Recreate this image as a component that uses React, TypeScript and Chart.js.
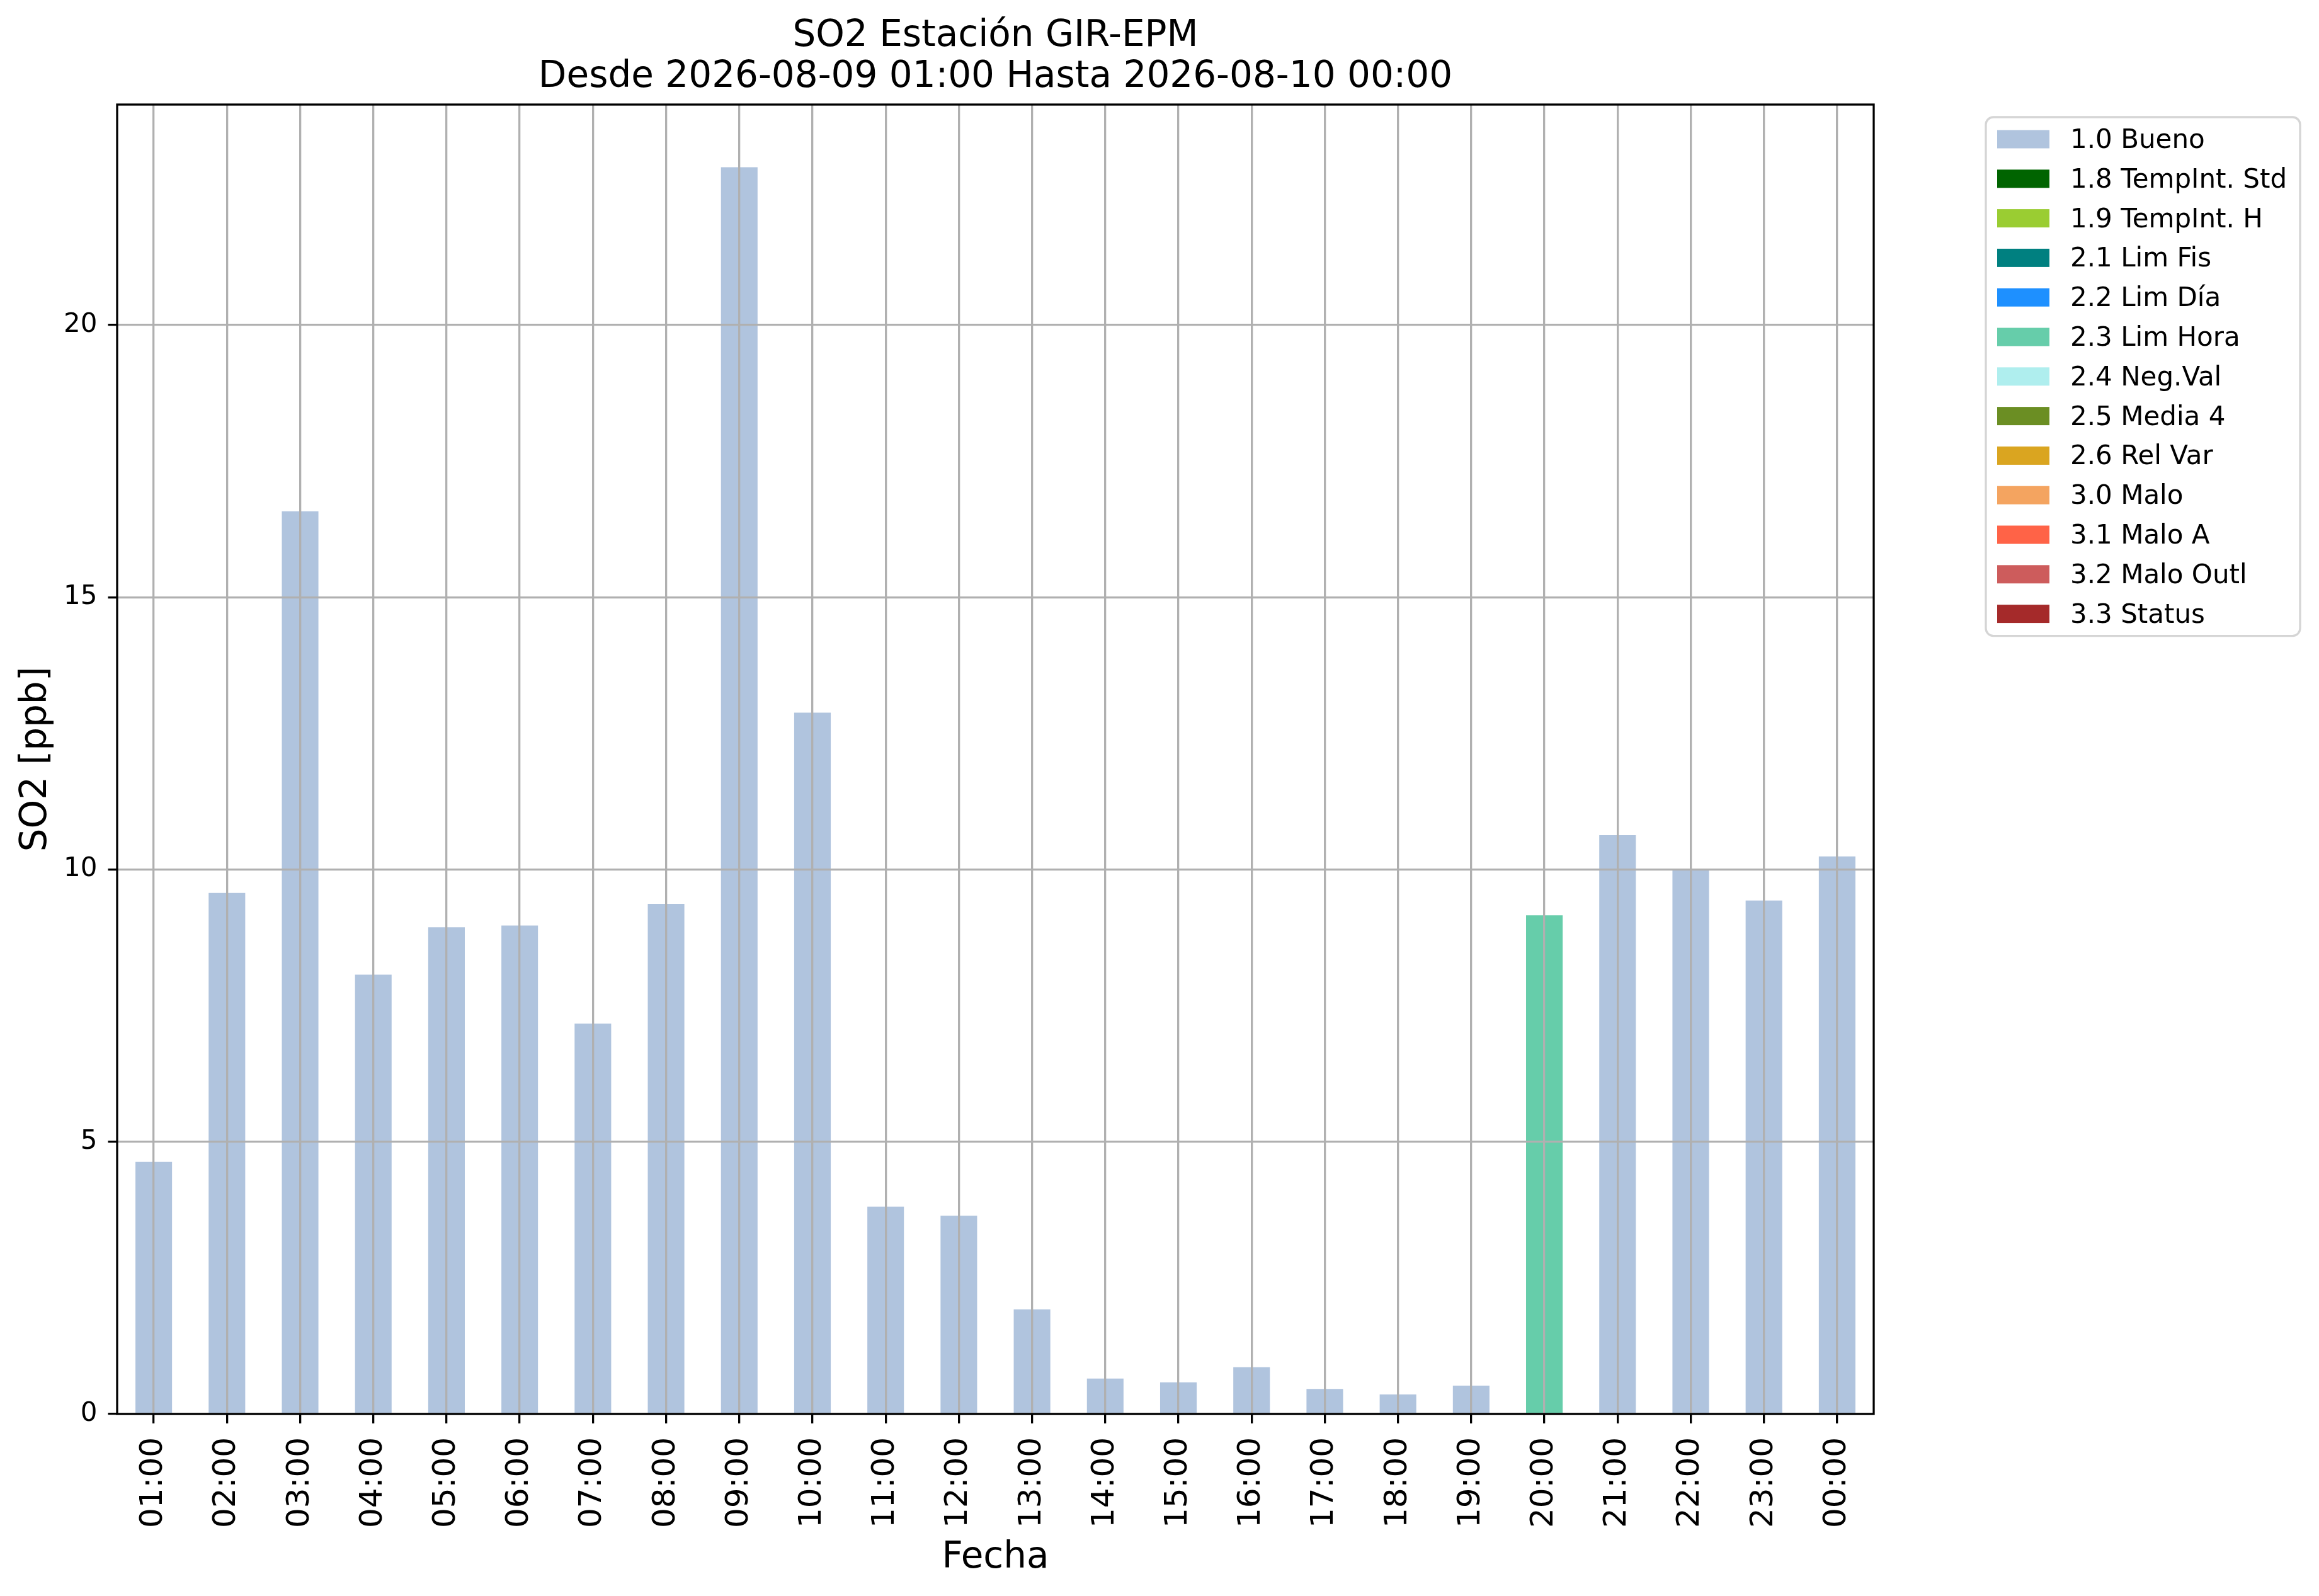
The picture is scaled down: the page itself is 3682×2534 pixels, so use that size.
import React, { useEffect, useRef } from "react";
import { Chart, registerables } from "chart.js";

Chart.register(...registerables);

// categorías (hora)
const horas = [
	"01:00", "02:00", "03:00", "04:00", "05:00", "06:00", "07:00", "08:00",
	"09:00", "10:00", "11:00", "12:00", "13:00", "14:00", "15:00", "16:00",
	"17:00", "18:00", "19:00", "20:00", "21:00", "22:00", "23:00", "00:00",
];

// banderas de calidad
const flagLabels = [
	"1.0 Bueno", "1.8 TempInt. Std", "1.9 TempInt. H", "2.1 Lim Fis",
	"2.2 Lim Día", "2.3 Lim Hora", "2.4 Neg.Val", "2.5 Media 4",
	"2.6 Rel Var", "3.0 Malo", "3.1 Malo A", "3.2 Malo Outl", "3.3 Status",
];
const flagColors = [
	"#B0C4DE", "#006400", "#9ACD32", "#008080", "#1E90FF", "#66CDAA",
	"#AFEEEE", "#6B8E23", "#DAA520", "#F4A460", "#FF6347", "#CD5C5C", "#A52A2A",
];

// SO2 [ppb] por bandera
const bueno = [
	4.63, 9.57, 16.58, 8.07, 8.94, 8.97, 7.17, 9.37, 22.9, 12.88, 3.81, 3.64,
	1.92, 0.65, 0.58, 0.86, 0.46, 0.36, 0.52, null, 10.63, 10.0, 9.43, 10.24,
];
const limHora = [
	null, null, null, null, null, null, null, null, null, null, null, null,
	null, null, null, null, null, null, null, 9.16, null, null, null, null,
];

const yMax = 24.05;
const yStep = 5;

const FONT = "'DejaVu Sans', sans-serif";

const framePlugin = {
	id: "frame",
	afterDraw(chart: any) {
		const { ctx, chartArea } = chart;
		ctx.save();
		ctx.strokeStyle = "#000";
		ctx.lineWidth = 3.3;
		ctx.strokeRect(chartArea.left, chartArea.top, chartArea.right - chartArea.left, chartArea.bottom - chartArea.top);
		ctx.restore();
	},
};

// leyenda con caja, a la derecha del gráfico
const boxedLegend = {
	id: "boxedLegend",
	afterDraw(chart: any) {
		const { ctx, chartArea } = chart;
		const sets = chart.data.datasets;
		const left = chartArea.right + 178;
		const top = chartArea.top + 20;
		const width = 499;
		const pitch = 62.8;
		const pad = 35;
		const height = pad * 2 + pitch * (sets.length - 1);
		ctx.save();
		ctx.beginPath();
		ctx.roundRect(left, top, width, height, 12);
		ctx.fillStyle = "rgba(255,255,255,0.8)";
		ctx.fill();
		ctx.strokeStyle = "#d5d5d5";
		ctx.lineWidth = 3.3;
		ctx.stroke();
		ctx.font = `42px ${FONT}`;
		ctx.textBaseline = "middle";
		ctx.textAlign = "left";
		sets.forEach((ds: any, i: number) => {
			const cy = top + pad + i * pitch;
			ctx.fillStyle = ds.backgroundColor;
			ctx.fillRect(left + 18, cy - 14.5, 83, 29);
			ctx.fillStyle = "#000";
			ctx.fillText(ds.label, left + 134, cy + 3);
		});
		ctx.restore();
	},
};

const App: React.FC = () => {
	const chartRef = useRef<HTMLCanvasElement | null>(null);
	const chartInstance = useRef<Chart | null>(null);

	useEffect(() => {
		document.body.style.margin = "0";
		if (chartInstance.current) {
			chartInstance.current.destroy();
			chartInstance.current = null;
		}
		if (!chartRef.current) return;
		const ctx = chartRef.current.getContext("2d");

		const datasets = flagLabels.map((label, i) => ({
			label,
			backgroundColor: flagColors[i],
			borderWidth: 0,
			data: i === 0 ? bueno : i === 5 ? limHora : [],
			barPercentage: 0.5,
			categoryPercentage: 1.0,
		}));

		chartInstance.current = new Chart(ctx as CanvasRenderingContext2D, {
			type: "bar",
			data: { labels: horas, datasets },
			options: {
				animation: false,
				responsive: false,
				devicePixelRatio: 1,
				layout: { padding: { top: 0, left: 0, right: 707, bottom: 0 } },
				plugins: {
					legend: { display: false },
					tooltip: { enabled: false },
					title: {
						display: true,
						fullSize: false,
						text: ["SO2 Estación GIR-EPM", "Desde 2026-08-09 01:00 Hasta 2026-08-10 00:00"],
						color: "#000",
						font: { family: FONT, size: 58, weight: "normal", lineHeight: 65 / 58 },
						padding: { top: 25.3, bottom: 10.7 },
					},
				},
				scales: {
					x: {
						stacked: true,
						afterFit: (s: any) => {
							s.height = 289;
						},
						grid: {
							offset: false,
							color: "#b0b0b0",
							lineWidth: 3.3,
							tickColor: "#000",
							tickWidth: 3.3,
							tickLength: 15,
							z: 1,
						},
						border: { display: false },
						ticks: {
							color: "#000",
							font: { family: FONT, size: 50 },
							minRotation: 90,
							maxRotation: 90,
							autoSkip: false,
							padding: 22,
						},
						title: {
							display: true,
							text: "Fecha",
							color: "#000",
							font: { family: FONT, size: 58, lineHeight: 1 },
							padding: { top: 0, bottom: 31 },
						},
					},
					y: {
						stacked: true,
						min: 0,
						max: yMax,
						afterFit: (s: any) => {
							s.width = 186;
						},
						grid: {
							color: "#b0b0b0",
							lineWidth: 3.3,
							tickColor: "#000",
							tickWidth: 3.3,
							tickLength: 14.5,
							z: 1,
						},
						border: { display: false },
						ticks: {
							stepSize: yStep,
							includeBounds: false,
							color: "#000",
							font: { family: FONT, size: 42 },
							padding: 17,
						},
						title: {
							display: true,
							text: "SO2 [ppb]",
							color: "#000",
							font: { family: FONT, size: 58, lineHeight: 1 },
							padding: { top: 29, bottom: 0 },
						},
					},
				},
			} as any,
			plugins: [framePlugin, boxedLegend],
		});

		return () => {
			if (chartInstance.current) {
				chartInstance.current.destroy();
				chartInstance.current = null;
			}
		};
	}, []);

	return (
		<div style={{ width: 3682, height: 2534, background: "#fff" }}>
			<canvas ref={chartRef} width={3682} height={2534}></canvas>
		</div>
	);
};

export default App;
